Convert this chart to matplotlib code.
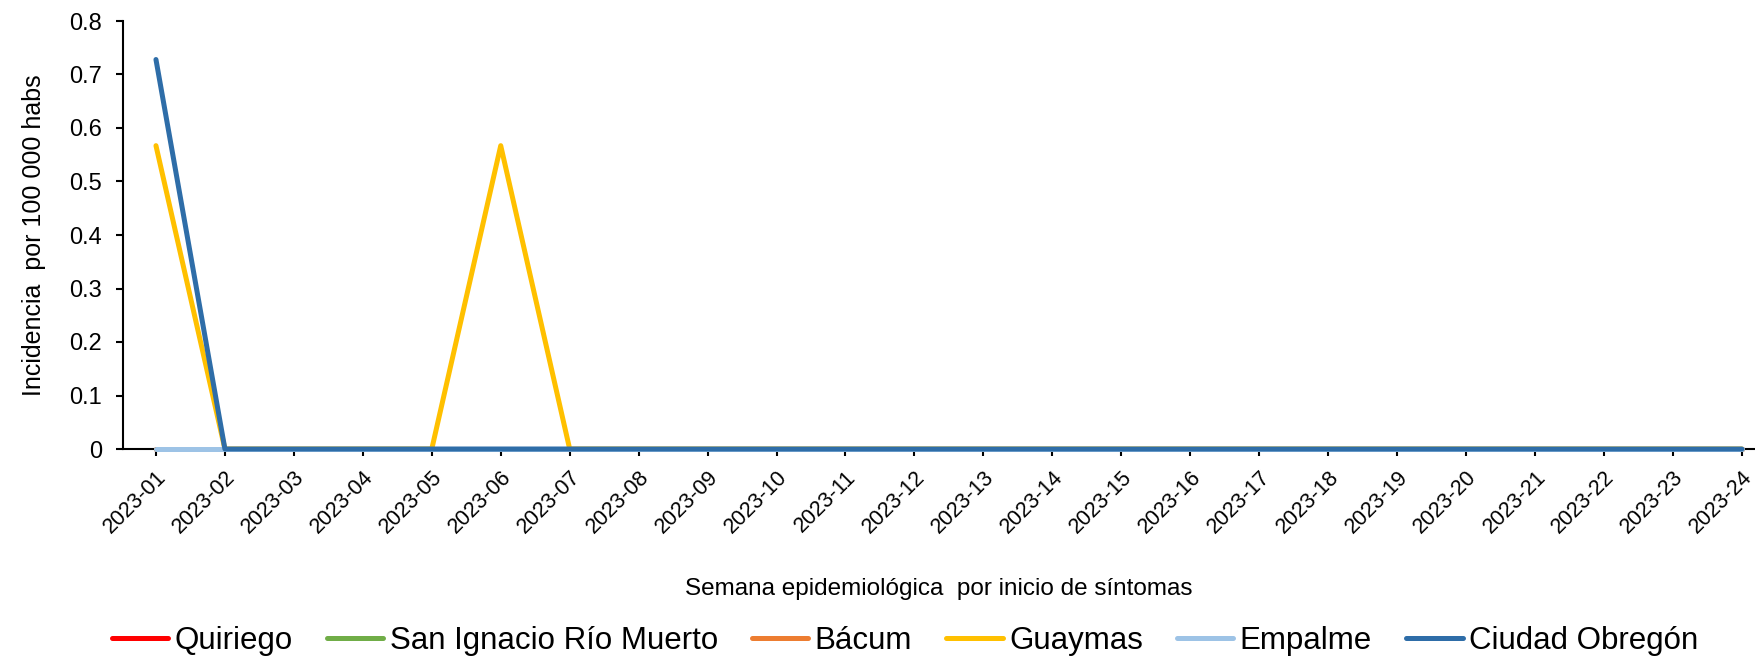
import matplotlib
matplotlib.use("Agg")
import matplotlib.pyplot as plt
from matplotlib.ticker import FuncFormatter, MultipleLocator

plt.rcParams['font.family'] = ['Liberation Sans', 'DejaVu Sans']

# --- data ---
weeks = [f"2023-{i:02d}" for i in range(1, 25)]
quiriego = [0] * 24
san_ignacio = [0] * 24
bacum = [0] * 24
guaymas = [0.567, 0, 0, 0, 0, 0.567] + [0] * 18
empalme = [0] * 24
ciudad_obregon = [0.728] + [0] * 23

series = [
    ("Quiriego", quiriego, "#FF0000"),
    ("San Ignacio Río Muerto", san_ignacio, "#70AD47"),
    ("Bácum", bacum, "#ED7D31"),
    ("Guaymas", guaymas, "#FFC000"),
    ("Empalme", empalme, "#9DC3E6"),
    ("Ciudad Obregón", ciudad_obregon, "#2E6DA8"),
]

# --- figure ---
fig = plt.figure(figsize=(17.55, 6.57), dpi=100)
ax = fig.add_axes([123 / 1755, 1 - 449 / 657, 1 - 123 / 1755, (449 - 21) / 657])

x = list(range(len(weeks)))
for name, vals, col in series:
    # zero values sit on the axis line, so don't clip them and draw above spines
    ax.plot(x, vals, color=col, linewidth=3.6, label=name, solid_capstyle='round',
            clip_on=False, zorder=3)

ax.set_xlim(-0.478, 23.19)
ax.set_ylim(0, 0.8)
ax.yaxis.set_major_locator(MultipleLocator(0.1))
ax.yaxis.set_major_formatter(FuncFormatter(lambda v, p: "0" if abs(v) < 1e-9 else f"{v:.1f}"))
ax.set_xticks(x)
ax.set_xticklabels(weeks, rotation=45, ha='right', rotation_mode='anchor')

for s in ['top', 'right']:
    ax.spines[s].set_visible(False)
for s in ['left', 'bottom']:
    ax.spines[s].set_linewidth(1.5)
    ax.spines[s].set_color('black')

ax.tick_params(axis='y', labelsize=17, length=5, width=1.5, pad=10)
ax.tick_params(axis='x', labelsize=15.5, length=5, width=1.5, pad=8)

ax.set_ylabel("Incidencia  por 100 000 habs", fontsize=18)
ax.yaxis.set_label_coords(-0.047, 0.5)
fig.text(939 / 1755, 1 - 589 / 657, "Semana epidemiológica  por inicio de síntomas",
         ha='center', va='center', fontsize=17.5)

fig.legend(loc='center', bbox_to_anchor=(905 / 1755, 1 - 641 / 657), ncol=6,
           frameon=False, fontsize=22.5, handlelength=1.8, handletextpad=0.2,
           columnspacing=1.1, borderaxespad=0)

fig.savefig("out.png", dpi=100)
